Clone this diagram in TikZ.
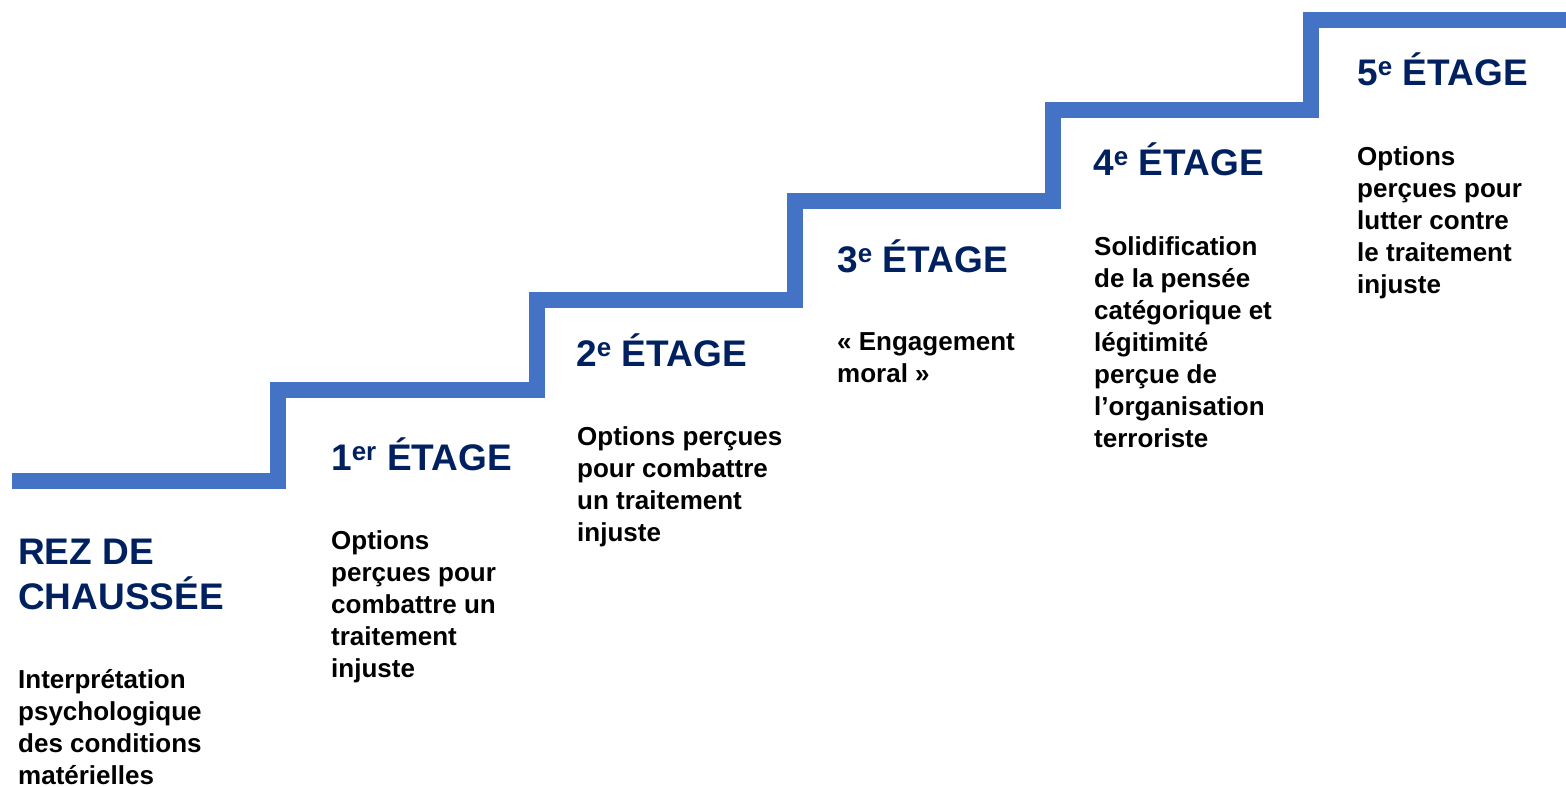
\documentclass[tikz,border=0pt]{standalone}
\usepackage{fontspec}
\setmainfont{Liberation Sans}
\definecolor{stairblue}{RGB}{68,114,196}
\definecolor{floornavy}{RGB}{0,32,96}
\begin{document}
\begin{tikzpicture}[x=1pt,y=-1pt,
  % multi-line nodes are placed by the baseline of their last line
  floorhead/.style={anchor=base west,inner sep=0pt,align=left,text=floornavy,
    font=\fontsize{37}{45}\selectfont\bfseries},
  floorbody/.style={anchor=base west,inner sep=0pt,align=left,text=black,
    font=\fontsize{26}{32}\selectfont\bfseries},
  stairline/.style={draw=stairblue,line width=16pt,line join=miter,line cap=butt}]
\useasboundingbox (0,0) rectangle (1566,787);

% corner points of the staircase
\coordinate (s0) at (12,481);
\coordinate (s1) at (278,481);
\coordinate (s2) at (278,390);
\coordinate (s3) at (537,390);
\coordinate (s4) at (537,300);
\coordinate (s5) at (795,300);
\coordinate (s6) at (795,201);
\coordinate (s7) at (1053,201);
\coordinate (s8) at (1053,110);
\coordinate (s9) at (1311,110);
\coordinate (s10) at (1311,20);
\coordinate (s11) at (1566,20);
\draw[stairline] (s0) -- (s1) -- (s2) -- (s3) -- (s4) -- (s5) -- (s6)
  -- (s7) -- (s8) -- (s9) -- (s10) -- (s11);

% ground floor
\node[floorhead] (h0) at (18,609) {REZ DE\\CHAUSSÉE};
\node[floorbody] (b0) at (18,784) {Interprétation\\psychologique\\des conditions\\matérielles};

% first floor
\node[floorhead] (h1) at (331,470) {1\textsuperscript{er} ÉTAGE};
\node[floorbody] (b1) at (331,677) {Options\\perçues pour\\combattre un\\traitement\\injuste};

% second floor
\node[floorhead] (h2) at (576,366) {2\textsuperscript{e} ÉTAGE};
\node[floorbody] (b2) at (577,541) {Options perçues\\pour combattre\\un traitement\\injuste};

% third floor
\node[floorhead] (h3) at (837,272) {3\textsuperscript{e} ÉTAGE};
\node[floorbody] (b3) at (837,382) {« Engagement\\moral »};

% fourth floor
\node[floorhead] (h4) at (1093,175) {4\textsuperscript{e} ÉTAGE};
\node[floorbody] (b4) at (1094,447) {Solidification\\de la pensée\\catégorique et\\légitimité\\perçue de\\l’organisation\\terroriste};

% fifth floor
\node[floorhead] (h5) at (1357,85) {5\textsuperscript{e} ÉTAGE};
\node[floorbody] (b5) at (1357,293) {Options\\perçues pour\\lutter contre\\le traitement\\injuste};
\end{tikzpicture}
\end{document}
